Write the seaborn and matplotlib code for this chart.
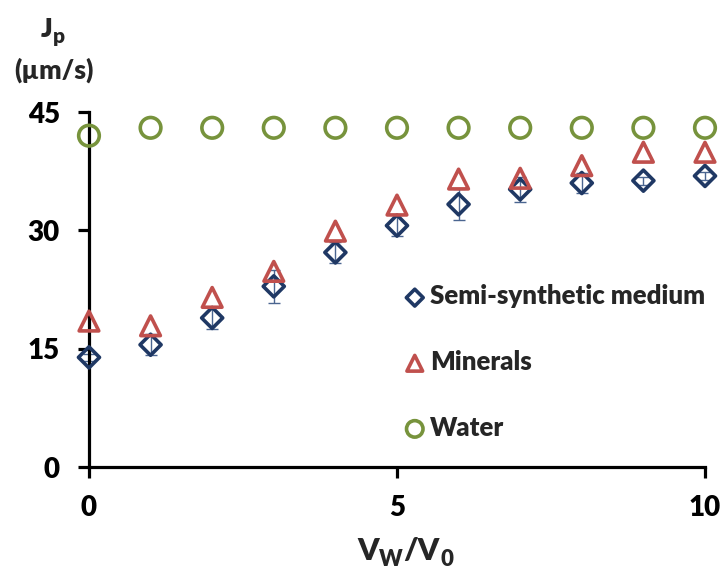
import numpy as np
import pandas as pd
import matplotlib
matplotlib.use("Agg")
import matplotlib.pyplot as plt
import seaborn as sns

# =====================================================
# Data
# =====================================================
ratio = [0, 1, 2, 3, 4, 5, 6, 7, 8, 9, 10]
semi_synthetic = [13.9, 15.5, 18.9, 22.9, 27.2, 30.6, 33.3, 35.2, 36.0, 36.3, 36.9]
semi_synthetic_err = [0.4, 1.3, 1.4, 2.1, 1.3, 1.3, 2.0, 1.6, 1.3, 0.5, 0.5]
minerals = [18.5, 17.9, 21.5, 24.8, 29.9, 33.2, 36.5, 36.6, 38.2, 39.9, 39.9]
water = [42.0, 43.0, 43.0, 43.0, 43.0, 43.0, 43.0, 43.0, 43.0, 43.0, 43.0]

labels = ["Semi-synthetic medium", "Minerals", "Water"]
colors = ["#1F3864", "#C0504D", "#77933C"]
markers = ["D", "^", "o"]
sizes = [115, 200, 220]

# =====================================================
# Style
# =====================================================
sns.set_style("ticks")
plt.rcParams["font.family"] = ["Lato", "DejaVu Sans"]
plt.rcParams["font.weight"] = 800

BOLD = dict(family="Lato", weight=800)
W, H = 721, 578

fig = plt.figure(figsize=(7.21, 5.78), dpi=100)
ax = fig.add_axes([0.1234, 0.192, 0.8544, 0.6142])

# error bars (semi-synthetic only)
ax.errorbar(ratio, semi_synthetic, yerr=semi_synthetic_err, fmt="none",
            ecolor="#4A6590", elinewidth=1.0, capsize=4, capthick=1.0,
            zorder=2, clip_on=False)

series = [semi_synthetic, minerals, water]
for vals, lab, col, mk, sz in zip(series, labels, colors, markers, sizes):
    sns.scatterplot(x=ratio, y=vals, ax=ax, marker=mk, s=sz,
                    facecolor="none", edgecolor=col, color=col,
                    linewidth=2.6, label=lab, zorder=4, clip_on=False)

ax.set_xlim(0, 10)
ax.set_ylim(0, 45)
ax.set_xticks([0, 5, 10])
ax.set_yticks([0, 15, 30, 45])
ax.set_xticklabels(["0", "5", "10"], fontsize=20, **BOLD)
ax.set_yticklabels(["0", "15", "30", "45"], fontsize=20, **BOLD)
ax.set_xlabel("")
ax.set_ylabel("")

for side in ["top", "right"]:
    ax.spines[side].set_visible(False)
for side in ["left", "bottom"]:
    ax.spines[side].set_linewidth(2.3)
    ax.spines[side].set_color("black")

ax.tick_params(axis="both", direction="out", length=8, width=2.3,
               colors="black")
ax.tick_params(axis="y", pad=13)
ax.tick_params(axis="x", pad=12)


# =====================================================
# Axis titles with bold subscripts (pieces placed side by side)
# =====================================================
def sub_text(x_left, baseline, parts):
    """parts: list of (text, fontsize, drop in px). Pixels from top-left."""
    renderer = fig.canvas.get_renderer()
    cur = x_left
    for txt, size, drop in parts:
        t = fig.text(cur / W, 1 - (baseline + drop) / H, txt, fontsize=size,
                     ha="left", va="baseline", **BOLD)
        cur = t.get_window_extent(renderer).x1 + 0.5


sub_text(41, 37, [("J", 19.5, 0), ("p", 15, 6)])
fig.text(0.075, 0.878, "(µm/s)", ha="center", va="center", fontsize=19, **BOLD)
sub_text(357, 560, [("V", 22, 0), ("W", 16, 6), ("/V", 22, 0), ("0", 16, 6)])

# legend
leg = ax.legend(loc="upper left", bbox_to_anchor=(0.5325, 0.548),
                bbox_transform=fig.transFigure, frameon=False,
                handlelength=0.6, handletextpad=0.3, labelspacing=1.62,
                markerscale=0.8, prop={"family": "Lato", "weight": 800, "size": 18.5})

fig.savefig("out.png", dpi=100)
